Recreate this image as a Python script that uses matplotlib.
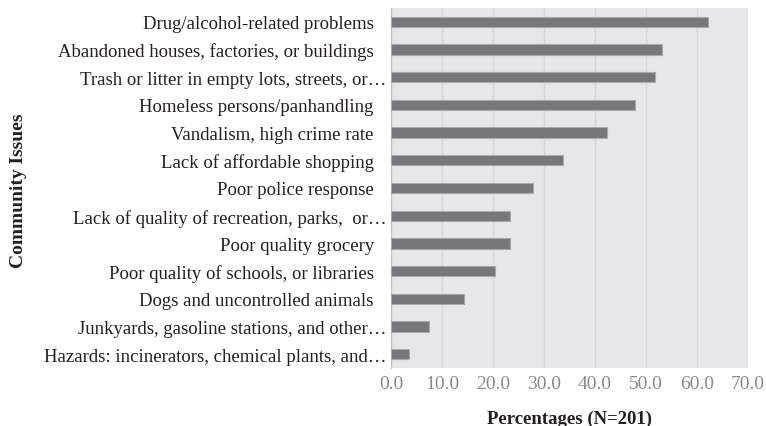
import matplotlib
matplotlib.use('Agg')
import matplotlib.pyplot as plt
import matplotlib.transforms as mtransforms

issues = [
    'Drug/alcohol-related problems',
    'Abandoned houses, factories, or buildings',
    'Trash or litter in empty lots, streets, or\u2026',
    'Homeless persons/panhandling',
    'Vandalism, high crime rate',
    'Lack of affordable shopping',
    'Poor police response',
    'Lack of quality of recreation, parks,  or\u2026',
    'Poor quality grocery',
    'Poor quality of schools, or libraries',
    'Dogs and uncontrolled animals',
    'Junkyards, gasoline stations, and other\u2026',
    'Hazards: incinerators, chemical plants, and\u2026',
]
percent = [62.2, 53.2, 51.7, 47.8, 42.3, 33.8, 27.9, 23.4, 23.4, 20.4, 14.4, 7.5, 3.5]
xticks = [0, 10, 20, 30, 40, 50, 60, 70]

plt.rcParams['font.family'] = ['Liberation Serif', 'DejaVu Serif']

fig = plt.figure(figsize=(7.66, 4.27), dpi=100)
ax = fig.add_axes([391/766, 1 - 369/427, (748 - 391)/766, (369 - 9)/427])
ax.set_facecolor('#e6e7e9')

y = list(range(len(issues)))[::-1]
ax.barh(y, percent, height=0.37, color='#76777b', edgecolor='#a8a9ac', linewidth=0.8, zorder=3)

ax.set_xlim(0, 70)
ax.set_ylim(-0.5, len(issues) - 0.5)
ax.set_xticks(xticks)
ax.set_xticklabels(['%.1f' % t for t in xticks], color='#8a8a8a', fontsize=14)
ax.set_yticks(y)
ax.set_yticklabels(issues, color='#231f20', fontsize=13.5)
ax.tick_params(length=0, axis='x', pad=5)
ax.tick_params(length=0, axis='y', pad=3)
# labels without ellipsis sit further from the axis, as in the original
shift = mtransforms.ScaledTranslation(-13/100, 0, fig.dpi_scale_trans)
for lab in ax.get_yticklabels():
    if not lab.get_text().endswith('\u2026'):
        lab.set_transform(lab.get_transform() + shift)
ax.grid(axis='x', color='#d6d7d9', linewidth=1, zorder=0)
for s in ['top', 'right', 'bottom']:
    ax.spines[s].set_visible(False)
ax.spines['left'].set_color('#bfbfbf')

ax.set_xlabel('Percentages (N=201)', fontsize=13.5, fontweight='bold', color='#231f20', labelpad=13)
fig.text(19/766, 1 - 191/427, 'Community Issues', rotation=90, fontsize=14,
         fontweight='bold', color='#231f20', ha='center', va='center')

fig.savefig('out.png', dpi=100)
